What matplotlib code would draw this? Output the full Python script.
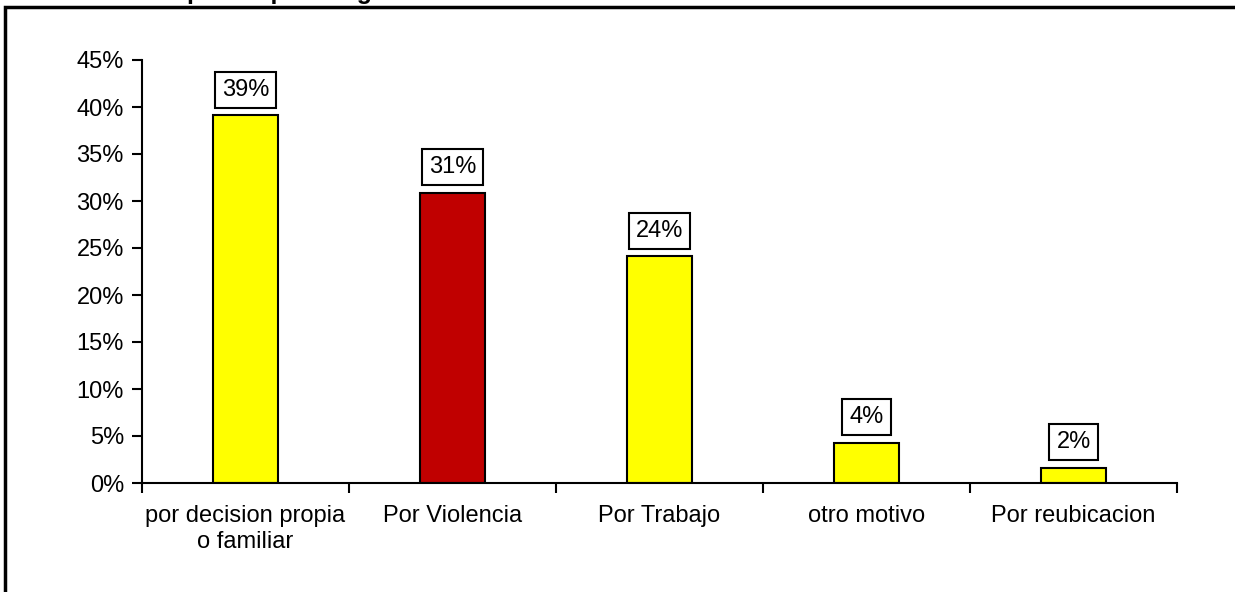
import matplotlib.pyplot as plt
from matplotlib.patches import Rectangle

plt.rcParams["font.family"] = ["Liberation Sans", "DejaVu Sans"]

categories = ["por decision propia\no familiar", "Por Violencia", "Por Trabajo",
              "otro motivo", "Por reubicacion"]
values = [39.1, 30.9, 24.1, 4.3, 1.6]
labels = ["39%", "31%", "24%", "4%", "2%"]
colors = ["#FFFF00", "#C00000", "#FFFF00", "#FFFF00", "#FFFF00"]
title = "Razón por la que emigró"

W, H = 1235, 592
fig = plt.figure(figsize=(W / 100, H / 100), dpi=100)
ax = fig.add_axes([142 / W, 1 - 483 / H, (1177 - 142) / W, (483 - 60) / H])

x = range(len(categories))
ax.bar(x, values, width=0.31, color=colors, edgecolor="black", linewidth=1.5, zorder=2)

for xi, v, lab in zip(x, values, labels):
    ax.annotate(lab, (xi, v), xytext=(0, 18.5), textcoords="offset points",
                ha="center", va="center", fontsize=17,
                bbox=dict(boxstyle="square,pad=0.3", fc="white", ec="black", lw=1.5))

ax.set_xlim(-0.5, len(categories) - 0.5)
ax.set_ylim(0, 45)
ax.set_yticks(range(0, 46, 5))
ax.set_yticklabels([f"{t}%" for t in range(0, 46, 5)], fontsize=17)
ax.set_xticks([i - 0.5 for i in range(len(categories) + 1)])
ax.set_xticklabels([])
ax.set_xticks(list(x), minor=True)
ax.set_xticklabels(categories, minor=True, fontsize=17)
ax.tick_params(axis="x", which="minor", length=0, pad=16)
ax.tick_params(axis="x", which="major", length=7, width=1.5, direction="out")
ax.tick_params(axis="y", length=7, width=1.5, direction="out", pad=6)

for s in ["top", "right"]:
    ax.spines[s].set_visible(False)
for s in ["left", "bottom"]:
    ax.spines[s].set_linewidth(1.5)

# outer chart frame, partly outside the image
fig.patches.append(Rectangle((5 / W, -0.2), 1.5, 1.2 - 7 / H, transform=fig.transFigure,
                             fill=False, ec="black", lw=2.5, zorder=0))
fig.text(105 / W, 1 + 1.5 / H, title, fontsize=18, fontweight="bold",
         ha="left", va="baseline")

fig.savefig("out.png", dpi=100)
